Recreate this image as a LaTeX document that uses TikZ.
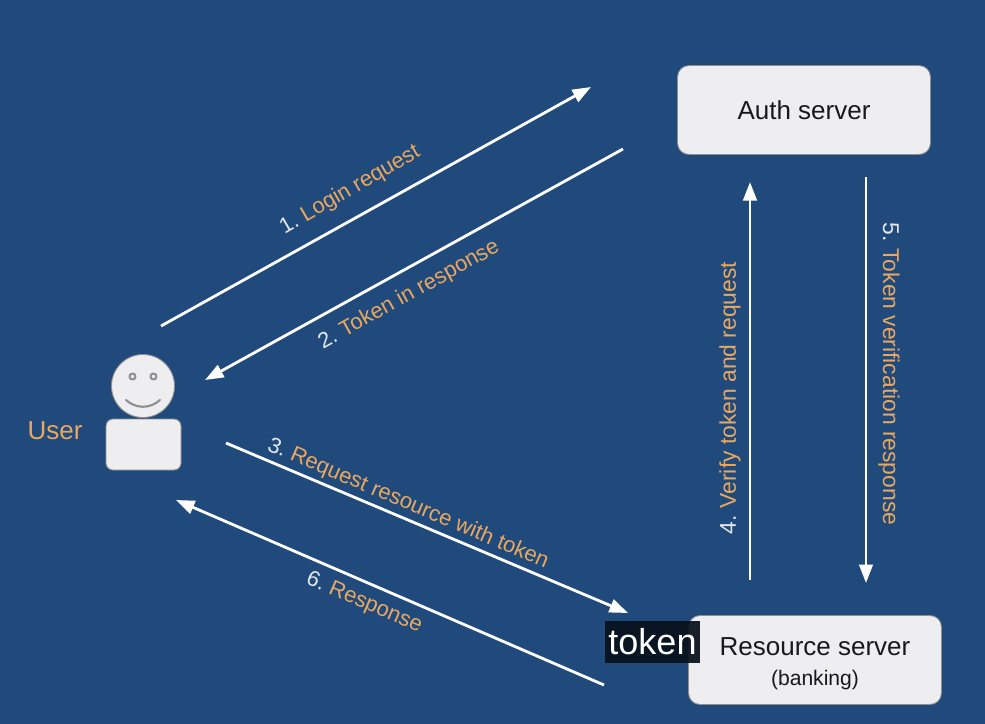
\documentclass[tikz,border=0pt]{standalone}
\usepackage{fontspec}
\setmainfont{Liberation Sans}
\usetikzlibrary{arrows.meta}
\definecolor{bgblue}{HTML}{214A7C}
\definecolor{boxgray}{HTML}{EEEEF0}
\definecolor{edgegray}{HTML}{8F8F8F}
\definecolor{labelorange}{HTML}{E9A860}
\definecolor{numwhite}{HTML}{E4E8EE}
\definecolor{capblack}{HTML}{08121C}
\tikzset{
	server/.style={draw=edgegray,fill=boxgray,rounded corners=2.3mm,line width=0.5pt,minimum width=5.06cm,minimum height=1.78cm,align=center,text=black!90},
	flow/.style={draw=white,line width=1.6pt,line cap=butt,-{Triangle[length=3.7mm,width=2.7mm]}},
	steplabel/.style={text=labelorange,font=\fontsize{12.5}{15}\selectfont,inner sep=0pt},
	sidelabel/.style={steplabel,font=\fontsize{13}{15}\selectfont},
}
\newcommand{\num}[1]{\textcolor{numwhite}{#1.}\hspace{-1pt}}
\begin{document}
\begin{tikzpicture}[x=0.02cm,y=-0.02cm,line join=round,line cap=round]
	\fill[bgblue] (0,0) rectangle (985,724);
	\useasboundingbox (0,0) rectangle (985,724);
	% servers
	\node[server,font=\fontsize{14.8}{17}\selectfont] (auth) at (804,110) {Auth server};
	\node[server] (res) at (815,660) {\fontsize{14.8}{17}\selectfont \rule{0pt}{14pt}Resource server\\[5pt]\fontsize{12}{14}\selectfont (banking)};
	% user
	\draw[edgegray,fill=boxgray,line width=0.5pt] (143,386) circle (31.5);
	\draw[edgegray,fill=boxgray,line width=0.5pt,rounded corners=1.4mm] (106,419) rectangle (181,470);
	\draw[edgegray,fill=boxgray,line width=1.2pt] (132.5,376.5) circle (3) (153.5,376.5) circle (3);
	\draw[edgegray,line width=1.2pt] (126,400) .. controls (136,409) and (150,409) .. (160,400);
	\node[text=labelorange,font=\fontsize{14.8}{17}\selectfont,inner sep=0pt] (user) at (55,431) {User};
	% arrow ends
	\coordinate (a1) at (161,326);
	\coordinate (b1) at (591,87);
	\coordinate (a2) at (623,149);
	\coordinate (b2) at (205,380);
	\coordinate (a3) at (226,443);
	\coordinate (b3) at (628,613);
	\coordinate (a4) at (750,580);
	\coordinate (b4) at (750,182);
	\coordinate (a5) at (866,177);
	\coordinate (b5) at (866,583);
	\coordinate (a6) at (604,685);
	\coordinate (b6) at (176,500);
	\foreach \s/\t in {a1/b1,a2/b2,a3/b3,a4/b4,a5/b5,a6/b6}
	\draw[flow] (\s)--(\t);
	% labels
	\node[steplabel,rotate=30] (l1) at (350,190) {\num{1} Login request};
	\node[steplabel,rotate=29] (l2) at (409,295) {\num{2} Token in response};
	\node[steplabel,rotate=-23] (l3) at (408,504) {\num{3} Request resource with token};
	\node[sidelabel,rotate=90] (l4) at (730,398) {\num{4} Verify token and request};
	\node[sidelabel,rotate=-90] (l5) at (889,374) {\num{5} Token verification response};
	\node[steplabel,rotate=-23] (l6) at (364,603) {\num{6} Response};
	% caption
	\node[fill=capblack,text=white,font=\fontsize{20.5}{22}\selectfont,inner sep=0pt,minimum width=1.9cm,minimum height=0.84cm,fill opacity=0.93,text opacity=1] (cap) at (652.5,642) {token};
\end{tikzpicture}
\end{document}
